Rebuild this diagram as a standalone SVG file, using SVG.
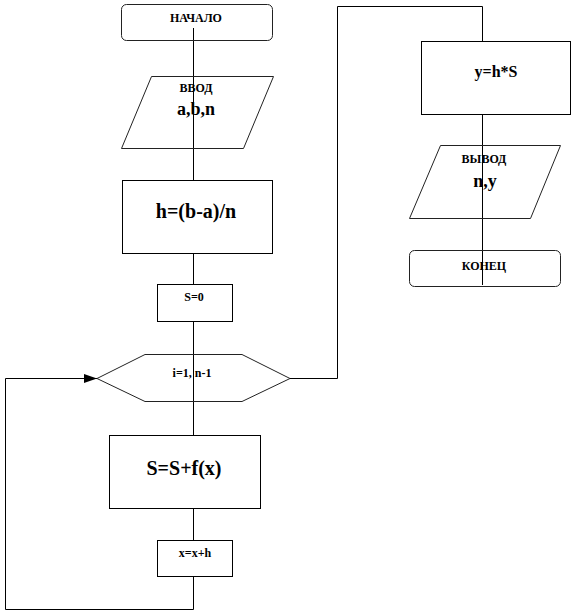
<svg xmlns="http://www.w3.org/2000/svg" width="575" height="610" viewBox="0 0 575 610">
<defs>
<marker id="ah" markerWidth="14" markerHeight="10" refX="13" refY="4.5" orient="auto" markerUnits="userSpaceOnUse">
<polygon points="0,0 13,4.5 0,9" fill="#000"/>
</marker>
</defs>
<g id="connectors" fill="none" stroke="#000" stroke-width="1">
<line x1="193.5" y1="28" x2="193.5" y2="609.5"/>
<polyline points="193.5,609.5 5.5,609.5 5.5,378.5 97,378.5" marker-end="url(#ah)"/>
<polyline points="290,378.5 337.5,378.5 337.5,6.5 482.5,6.5 482.5,285"/>
</g>
<g id="start">
<rect fill="none" stroke="#222" x="121.5" y="4.5" width="151" height="36" rx="5"/>
<text font-family="Liberation Serif" font-weight="bold" text-anchor="middle" font-size="12" x="196" y="22">НАЧАЛО</text>
</g>
<g id="input">
<polygon fill="none" stroke="#222" points="151.5,76.5 273.5,76.5 243.5,148.5 121.5,148.5"/>
<text font-family="Liberation Serif" font-weight="bold" text-anchor="middle" font-size="12" x="196" y="92">ВВОД</text>
<text font-family="Liberation Serif" font-weight="bold" text-anchor="middle" font-size="18" x="196" y="115">a,b,n</text>
</g>
<g id="calc_h">
<rect fill="#fff" stroke="#000" x="122.5" y="180.5" width="150" height="73"/>
<text font-family="Liberation Serif" font-weight="bold" text-anchor="middle" font-size="20" x="196" y="218">h=(b-a)/n</text>
</g>
<g id="init_s">
<rect fill="#fff" stroke="#000" x="157.5" y="284.5" width="75" height="37"/>
<text font-family="Liberation Serif" font-weight="bold" text-anchor="middle" font-size="12" x="194" y="301">S=0</text>
</g>
<g id="loop">
<polygon fill="none" stroke="#222" points="97,378.5 145,354.5 242,354.5 290,378.5 242,401.5 145,401.5"/>
<text font-family="Liberation Serif" font-weight="bold" text-anchor="middle" font-size="12" x="192" y="377">i=1,  n-1</text>
</g>
<g id="sum">
<rect fill="#fff" stroke="#000" x="109.5" y="435.5" width="151" height="73"/>
<text font-family="Liberation Serif" font-weight="bold" text-anchor="middle" font-size="20" x="184" y="475">S=S+f(x)</text>
</g>
<g id="step_x">
<rect fill="#fff" stroke="#000" x="157.5" y="540.5" width="75" height="36"/>
<text font-family="Liberation Serif" font-weight="bold" text-anchor="middle" font-size="12" x="195" y="557">x=x+h</text>
</g>
<g id="calc_y">
<rect fill="#fff" stroke="#000" x="421.5" y="41.5" width="149" height="73"/>
<text font-family="Liberation Serif" font-weight="bold" text-anchor="middle" font-size="16" x="496" y="77">y=h*S</text>
</g>
<g id="output">
<polygon fill="none" stroke="#222" points="440.5,145.5 560.5,145.5 530.5,218.5 409.5,218.5"/>
<text font-family="Liberation Serif" font-weight="bold" text-anchor="middle" font-size="12" x="484" y="163">ВЫВОД</text>
<text font-family="Liberation Serif" font-weight="bold" text-anchor="middle" font-size="18" x="485" y="187">n,y</text>
</g>
<g id="end">
<rect fill="none" stroke="#222" x="409.5" y="250.5" width="151" height="36" rx="5"/>
<text font-family="Liberation Serif" font-weight="bold" text-anchor="middle" font-size="12" x="484" y="270">КОНЕЦ</text>
</g>
</svg>
